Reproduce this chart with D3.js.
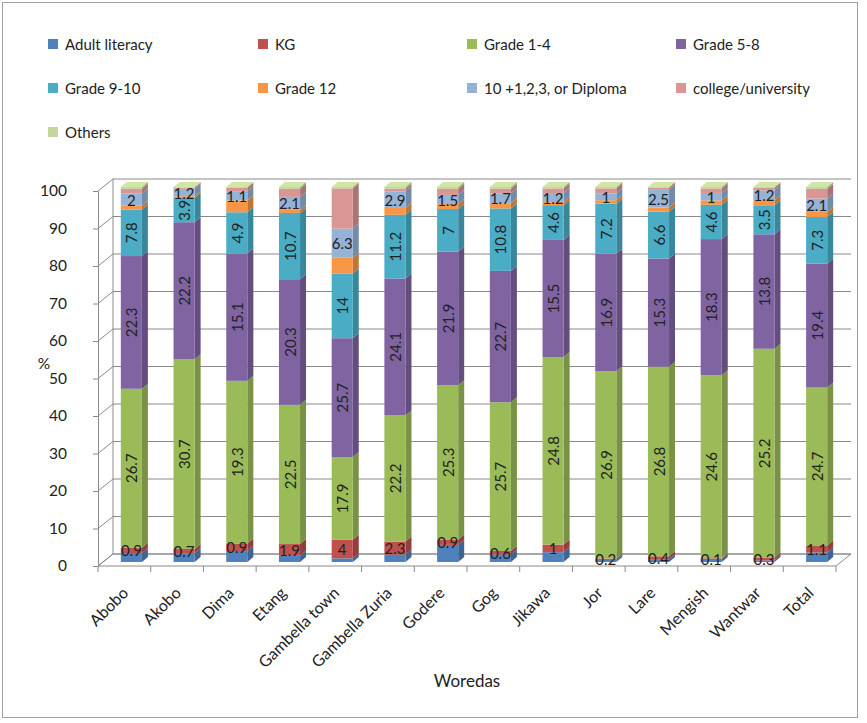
<!DOCTYPE html>
<html>
<head>
<meta charset="utf-8">
<script src="https://cdn.jsdelivr.net/npm/d3@7/dist/d3.min.js"></script>
<style>
  html, body { margin: 0; padding: 0; background: #fff; }
  svg { display: block; font-family: Lato, "Noto Sans", sans-serif; }
</style>
</head>
<body>
<svg id="chart" width="867" height="723"></svg>
<script>
// Educational attainment by woreda (raw shares, drawn as 100% stacked columns)
const woredas = ["Abobo", "Akobo", "Dima", "Etang", "Gambella town", "Gambella Zuria",
  "Godere", "Gog", "Jikawa", "Jor", "Lare", "Mengish", "Wantwar", "Total"];

const seriesNames = ["Adult literacy", "KG", "Grade 1-4", "Grade 5-8", "Grade 9-10",
  "Grade 12", "10 +1,2,3, or Diploma", "college/university", "Others"];

const adultLiteracy = [1.5, 1.4, 1.3, 1.0, 0.8, 1.3, 2.8, 1.3, 1.3, 0.3, 0.4, 0.4, 0.2, 1.5];
const kg            = [0.9, 0.7, 0.9, 1.9, 4, 2.3, 0.9, 0.6, 1, 0.2, 0.4, 0.1, 0.3, 1.1];
const grade1to4     = [26.7, 30.7, 19.3, 22.5, 17.9, 22.2, 25.3, 25.7, 24.8, 26.9, 26.8, 24.6, 25.2, 24.7];
const grade5to8     = [22.3, 22.2, 15.1, 20.3, 25.7, 24.1, 21.9, 22.7, 15.5, 16.9, 15.3, 18.3, 13.8, 19.4];
const grade9to10    = [7.8, 3.9, 4.9, 10.7, 14, 11.2, 7, 10.8, 4.6, 7.2, 6.6, 4.6, 3.5, 7.3];
const grade12       = [0.7, 0.3, 1.4, 0.5, 3.4, 1.2, 0.8, 0.9, 0.4, 0.5, 0.6, 0.6, 0.6, 0.8];
const diploma       = [2, 1.2, 1.1, 2.1, 6.3, 2.9, 1.5, 1.7, 1.2, 1, 2.5, 1, 1.2, 2.1];
const college       = [0.8, 0.2, 0.4, 1.3, 8.7, 0.5, 1.0, 0.8, 0.6, 0.7, 0.3, 0.6, 0.3, 1.5];
const others        = [0.3, 0.1, 0.1, 0.3, 0.3, 0.3, 0.3, 0.3, 0.2, 0.2, 0.1, 0.2, 0.1, 0.3];

const seriesValues = [adultLiteracy, kg, grade1to4, grade5to8, grade9to10,
  grade12, diploma, college, others];

const seriesColors = ["#4F81BD", "#C0504D", "#9BBB59", "#8064A2", "#4BACC6",
  "#F79646", "#95B3D7", "#D99694", "#C3D69B"];

const yTicks = [0, 10, 20, 30, 40, 50, 60, 70, 80, 90, 100];

// series that carry value labels, and which of them are written vertically
const labelledSeries = ["KG", "Grade 1-4", "Grade 5-8", "Grade 9-10", "10 +1,2,3, or Diploma"];
const verticalLabelSeries = ["Grade 1-4", "Grade 5-8", "Grade 9-10"];

// table for the stack layout
const rows = woredas.map((w, i) => {
  const r = { woreda: w };
  seriesNames.forEach((s, k) => { r[s] = seriesValues[k][i]; });
  return r;
});

const stacked = d3.stack().keys(seriesNames).offset(d3.stackOffsetExpand)(rows);

const svg = d3.select("#chart");
const textColor = "#222";
const gridColor = "#8a8a8a";

// outer frame
svg.append("rect").attr("x", 2.5).attr("y", 2.5).attr("width", 855).attr("height", 715)
  .attr("fill", "#fff").attr("stroke", "#a0a0a0").attr("stroke-width", 1);

// 3D geometry
const WALL_DX = 15, WALL_DY = -12;   // depth of the plot box
const BAR_OX = 7, BAR_OY = -4;       // bar front face inside the box
const BAR_DX = 6, BAR_DY = -5;       // bar thickness

const x = d3.scaleBand().domain(woredas).range([98, 836]).paddingInner(0).paddingOuter(0);
const y = d3.scaleLinear().domain([0, 100]).range([566, 191]);
const barW = x.bandwidth() * 0.4;

const x0 = x.range()[0], x1 = x.range()[1];
const g = svg.append("g");

// back wall gridlines
g.selectAll("line.grid").data(yTicks).join("line")
  .attr("class", "grid")
  .attr("x1", x0 + WALL_DX).attr("x2", x1 + WALL_DX)
  .attr("y1", d => y(d) + WALL_DY).attr("y2", d => y(d) + WALL_DY)
  .attr("stroke", gridColor).attr("stroke-width", 1);

// side wall diagonals
g.selectAll("line.diag").data(yTicks).join("line")
  .attr("class", "diag")
  .attr("x1", x0).attr("x2", x0 + WALL_DX)
  .attr("y1", d => y(d)).attr("y2", d => y(d) + WALL_DY)
  .attr("stroke", gridColor).attr("stroke-width", 1);

// side wall back edge
g.append("line")
  .attr("x1", x0 + WALL_DX).attr("x2", x0 + WALL_DX)
  .attr("y1", y(0) + WALL_DY).attr("y2", y(100) + WALL_DY)
  .attr("stroke", gridColor);

// floor
g.append("path")
  .attr("d", `M${x0},${y(0)}L${x1},${y(0)}L${x1 + WALL_DX},${y(0) + WALL_DY}L${x0 + WALL_DX},${y(0) + WALL_DY}Z`)
  .attr("fill", "none").attr("stroke", gridColor);

// value axis (front edge)
const yAxis = d3.axisLeft(y).tickValues(yTicks).tickSize(5).tickPadding(26);
const yAxisG = svg.append("g").attr("transform", `translate(${x0},0)`).call(yAxis);
yAxisG.select(".domain").attr("stroke", gridColor);
yAxisG.selectAll(".tick line").attr("stroke", gridColor);
yAxisG.selectAll(".tick text").attr("fill", textColor).attr("font-size", 15.5)
  .attr("font-family", "Lato, 'Noto Sans', sans-serif");

// category axis ticks along the floor front edge
const bounds = woredas.map(w => x(w)).concat([x1]);
svg.append("g").selectAll("line").data(bounds).join("line")
  .attr("x1", d => d).attr("x2", d => d).attr("y1", y(0)).attr("y2", y(0) + 6)
  .attr("stroke", gridColor);

// category labels
svg.append("g").selectAll("text").data(woredas).join("text")
  .attr("transform", d => `translate(${x(d) + x.bandwidth() / 2 + 5},${y(0) + 28}) rotate(-45)`)
  .attr("text-anchor", "end")
  .attr("font-size", 16).attr("fill", textColor)
  .text(d => d);

// bars
const barsG = svg.append("g");
const frontX = d => x(d) + x.bandwidth() / 2 - barW / 2 + BAR_OX;
const yb = v => y(v * 100) + BAR_OY;

stacked.forEach((layer, k) => {
  const col = d3.color(seriesColors[k]);
  const side = col.darker(0.7);
  const grp = barsG.append("g");
  layer.forEach((seg, i) => {
    const w = woredas[i];
    const xl = frontX(w);
    const yt = yb(seg[1]);
    const ybot = yb(seg[0]);
    // side face
    grp.append("path")
      .attr("d", `M${xl + barW},${yt}L${xl + barW + BAR_DX},${yt + BAR_DY}L${xl + barW + BAR_DX},${ybot + BAR_DY}L${xl + barW},${ybot}Z`)
      .attr("fill", side);
    // front face
    grp.append("rect")
      .attr("x", xl).attr("y", yt).attr("width", barW).attr("height", Math.max(0, ybot - yt))
      .attr("fill", col);
    // top face on the last series
    if (k === stacked.length - 1) {
      grp.append("path")
        .attr("d", `M${xl},${yt}L${xl + BAR_DX},${yt + BAR_DY}L${xl + barW + BAR_DX},${yt + BAR_DY}L${xl + barW},${yt}Z`)
        .attr("fill", col.brighter(0.2));
    }
  });
});

// value labels
const labelsG = svg.append("g");
stacked.forEach((layer, k) => {
  const name = seriesNames[k];
  if (!labelledSeries.includes(name)) return;
  const vertical = verticalLabelSeries.includes(name);
  layer.forEach((seg, i) => {
    const w = woredas[i];
    const cx = frontX(w) + barW / 2;
    const cy = (yb(seg[0]) + yb(seg[1])) / 2;
    labelsG.append("text")
      .attr("transform", vertical ? `translate(${cx},${cy}) rotate(-90)` : `translate(${cx},${cy})`)
      .attr("text-anchor", "middle")
      .attr("dominant-baseline", "central")
      .attr("font-size", 15).attr("fill", textColor)
      .text(seriesValues[k][i]);
  });
});

// axis titles
svg.append("text").attr("x", 44).attr("y", 363).attr("text-anchor", "middle")
  .attr("dominant-baseline", "central").attr("font-size", 15.5).attr("fill", textColor).text("%");
svg.append("text").attr("x", 467).attr("y", 680).attr("text-anchor", "middle")
  .attr("dominant-baseline", "central").attr("font-size", 17).attr("fill", textColor).text("Woredas");

// legend
const legendCols = [48, 258, 467, 676];
const legendRows = [44, 88, 132];
const legend = svg.append("g").selectAll("g").data(seriesNames).join("g")
  .attr("transform", (d, i) => `translate(${legendCols[i % 4]},${legendRows[Math.floor(i / 4)]})`);
legend.append("rect").attr("x", 0).attr("y", -5).attr("width", 10).attr("height", 10)
  .attr("fill", (d, i) => seriesColors[i]);
legend.append("text").attr("x", 17).attr("y", 0).attr("dominant-baseline", "central")
  .attr("font-size", 15).attr("fill", textColor).text(d => d);
</script>
</body>
</html>
